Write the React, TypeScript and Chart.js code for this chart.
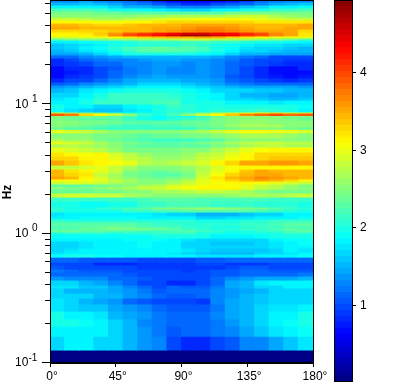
import React, { useEffect, useRef } from "react";
import { Chart, registerables } from "chart.js";

Chart.register(...registerables);

const FONT = '"Liberation Sans", Arial, sans-serif';

const angleCenters = [5, 15, 25, 35, 45, 55, 65, 75, 85, 95, 105, 115, 125, 135, 145, 155, 165, 175];
const angleTicks = [0, 45, 90, 135, 180];
const colorTicks = [1, 2, 3, 4];
const colorMin = 0.01;
const colorMax = 4.94;
const colorLevels = 64;
const decadeLabels = [
  { value: 10, exp: "1" },
  { value: 1, exp: "0" },
  { value: 0.1, exp: "-1" },
];

// frequency edges of the rows, Hz, high to low
const freqEdges = [
  64.07, 61.8, 58.6, 55.6, 52.7, 49.9, 47.3, 44.9, 42.5, 40.3, 38.2, 36.2, 35.0, 33.8, 32.6, 31.4, 29.8, 28.2,
  26.8, 25.4, 24.1, 22.8, 21.6, 19.8, 18.4, 17.2, 16.0, 14.9, 14.1, 13.4, 12.4,
  11.4, 10.8, 10.05, 9.36, 8.72, 8.57, 8.19, 7.98, 7.56, 7.04, 6.72, 6.4, 6.02, 5.49,
  5.2, 4.93, 4.68, 4.28, 3.98, 3.71, 3.39, 3.16, 2.99, 2.79, 2.65, 2.55, 2.42,
  2.33, 2.21, 2.06, 1.92, 1.79, 1.61, 1.55, 1.47, 1.37, 1.3, 1.23, 1.145, 1.105, 1.066,
  1.029, 0.993, 0.925, 0.877, 0.816, 0.774, 0.721, 0.696, 0.659, 0.603, 0.572, 0.532, 0.505, 0.47,
  0.438, 0.4, 0.38, 0.347, 0.318, 0.286, 0.252, 0.219, 0.193, 0.161, 0.126, 0.1,
];

// one row per frequency band, one value per 10-degree bin
const bandValues = [
  [1.3,1.3,1.4,1.3,1.2,1.1,1.0,0.85,0.7,0.6,0.6,0.7,0.75,0.9,1.1,1.2,1.3,1.3],
  [1.55,1.55,1.6,1.5,1.4,1.3,1.2,1.05,0.95,0.85,0.85,0.95,1.05,1.15,1.3,1.45,1.55,1.6],
  [1.85,1.85,1.85,1.8,1.7,1.55,1.5,1.4,1.3,1.25,1.25,1.35,1.45,1.6,1.7,1.8,1.85,1.9],
  [2.2,2.2,2.2,2.1,2.0,1.95,1.9,1.85,1.75,1.7,1.7,1.8,1.85,1.95,2.0,2.1,2.15,2.2],
  [2.45,2.4,2.4,2.35,2.35,2.3,2.25,2.3,2.3,2.3,2.3,2.3,2.4,2.4,2.45,2.45,2.4,2.4],
  [2.55,2.55,2.5,2.5,2.5,2.5,2.6,2.6,2.65,2.7,2.7,2.7,2.75,2.8,2.8,2.7,2.6,2.55],
  [2.8,2.8,2.75,2.7,2.7,2.75,2.85,2.9,2.95,3.0,3.05,3.05,3.1,3.05,3.0,2.9,2.85,2.8],
  [3.15,3.15,3.1,3.05,3.05,3.1,3.15,3.2,3.25,3.3,3.3,3.3,3.3,3.25,3.2,3.2,3.2,3.2],
  [3.45,3.45,3.35,3.3,3.3,3.35,3.4,3.45,3.45,3.5,3.55,3.55,3.5,3.45,3.4,3.4,3.45,3.5],
  [3.5,3.5,3.45,3.4,3.4,3.4,3.45,3.5,3.55,3.6,3.65,3.65,3.6,3.5,3.45,3.45,3.5,3.5],
  [3.3,3.3,3.3,3.3,3.35,3.4,3.45,3.55,3.6,3.7,3.75,3.75,3.65,3.6,3.55,3.55,3.5,3.3],
  [3.1,3.1,3.2,3.35,3.6,3.9,4.05,4.2,4.4,4.55,4.55,4.4,4.3,4.1,3.95,3.7,3.5,3.2],
  [3.15,3.15,3.15,3.3,3.65,3.95,4.15,4.3,4.55,4.75,4.75,4.55,4.35,4.15,3.95,3.7,3.5,3.2],
  [2.9,2.9,2.95,3.0,3.1,3.2,3.3,3.35,3.4,3.45,3.5,3.4,3.3,3.2,3.1,3.0,2.95,2.95],
  [2.35,2.4,2.5,2.55,2.6,2.6,2.65,2.7,2.75,2.8,2.8,2.75,2.7,2.65,2.6,2.5,2.4,2.3],
  [1.85,1.85,1.9,1.95,2.0,2.05,2.1,2.15,2.15,2.2,2.2,2.15,2.1,2.05,2.0,1.95,1.9,1.85],
  [1.6,1.65,1.75,1.85,1.95,2.0,2.05,2.05,2.05,2.1,2.05,2.0,1.9,1.8,1.75,1.75,1.7,1.65],
  [1.6,1.7,1.8,1.9,2.05,2.2,2.3,2.35,2.3,2.25,2.2,2.0,1.9,1.75,1.7,1.65,1.6,1.55],
  [1.55,1.6,1.75,1.85,2.0,2.15,2.25,2.3,2.25,2.2,2.15,1.95,1.85,1.7,1.65,1.6,1.55,1.5],
  [1.4,1.45,1.55,1.7,1.8,1.95,2.0,2.0,2.0,1.95,1.9,1.8,1.7,1.55,1.5,1.45,1.4,1.4],
  [1.1,1.15,1.25,1.35,1.45,1.55,1.55,1.55,1.55,1.5,1.5,1.4,1.3,1.2,1.1,1.0,1.0,1.0],
  [0.85,0.95,1.1,1.2,1.25,1.3,1.35,1.4,1.4,1.35,1.35,1.3,1.2,1.05,1.0,0.95,0.9,0.9],
  [0.8,0.9,1.0,1.1,1.15,1.25,1.3,1.35,1.35,1.3,1.35,1.3,1.15,1.05,1.0,0.9,0.85,0.85],
  [0.7,0.8,0.85,0.95,1.05,1.2,1.3,1.35,1.3,1.3,1.35,1.3,1.1,1.0,0.85,0.7,0.7,0.8],
  [0.65,0.75,0.8,0.95,1.1,1.2,1.3,1.35,1.25,1.25,1.35,1.3,1.1,0.95,0.85,0.7,0.65,0.7],
  [0.7,0.8,0.9,1.0,1.15,1.25,1.35,1.4,1.35,1.35,1.35,1.3,1.05,0.95,0.85,0.75,0.7,0.75],
  [0.85,0.95,1.0,1.15,1.25,1.4,1.5,1.5,1.5,1.45,1.45,1.35,1.15,1.05,0.95,0.9,0.85,0.9],
  [1.05,1.15,1.25,1.35,1.45,1.55,1.65,1.7,1.65,1.6,1.55,1.45,1.3,1.2,1.15,1.1,1.1,1.1],
  [1.35,1.45,1.55,1.6,1.65,1.75,1.8,1.85,1.8,1.75,1.7,1.6,1.5,1.45,1.45,1.4,1.4,1.35],
  [1.55,1.6,1.75,1.85,1.9,2.0,2.0,2.0,1.95,1.9,1.8,1.7,1.65,1.65,1.6,1.6,1.55,1.55],
  [1.65,1.7,1.8,2.0,2.1,2.15,2.15,2.1,2.05,1.95,1.9,1.8,1.65,1.55,1.5,1.4,1.45,1.55],
  [1.75,1.8,1.9,2.05,2.1,2.15,2.15,2.15,2.1,1.95,1.9,1.85,1.7,1.65,1.6,1.5,1.55,1.6],
  [1.85,1.85,2.0,2.1,2.1,2.1,2.15,2.2,2.2,2.0,1.95,1.95,1.85,1.8,1.8,1.75,1.8,1.8],
  [1.95,1.85,1.8,1.7,1.7,1.8,1.9,2.0,2.1,2.05,1.95,2.0,2.0,2.0,2.0,2.0,2.0,1.9],
  [1.9,1.75,1.7,1.6,1.6,1.75,1.85,1.95,2.05,2.05,2.0,2.05,2.05,2.05,2.1,2.05,2.0,1.85],
  [2.9,2.7,2.5,2.35,2.2,2.0,1.95,1.95,2.1,2.2,2.4,2.7,2.9,3.0,3.1,3.2,2.9,3.0],
  [3.9,3.75,3.3,3.1,2.8,2.5,2.1,1.95,2.2,2.55,2.85,3.1,3.35,3.65,3.85,3.95,3.8,3.9],
  [2.5,2.45,2.4,2.35,2.3,2.2,2.0,1.9,2.0,2.0,2.1,2.35,2.5,2.6,2.55,2.5,2.45,2.4],
  [2.4,2.35,2.3,2.3,2.25,2.1,1.95,1.9,2.05,2.1,2.2,2.4,2.5,2.55,2.55,2.5,2.4,2.35],
  [2.5,2.5,2.45,2.4,2.35,2.3,2.3,2.3,2.3,2.35,2.35,2.45,2.5,2.6,2.6,2.55,2.5,2.5],
  [2.55,2.4,2.35,2.25,2.2,2.15,2.15,2.2,2.2,2.25,2.35,2.45,2.6,2.65,2.65,2.65,2.55,2.5],
  [2.35,2.3,2.3,2.2,2.15,2.1,2.1,2.1,2.1,2.15,2.25,2.35,2.45,2.55,2.55,2.55,2.4,2.35],
  [3.0,2.9,2.8,2.65,2.55,2.5,2.5,2.5,2.5,2.6,2.7,2.85,3.0,3.05,3.05,3.0,3.0,2.9],
  [2.55,2.5,2.5,2.45,2.4,2.35,2.3,2.35,2.35,2.4,2.45,2.55,2.6,2.65,2.65,2.65,2.6,2.55],
  [2.65,2.6,2.6,2.45,2.35,2.3,2.2,2.15,2.1,2.1,2.2,2.3,2.4,2.5,2.55,2.55,2.5,2.5],
  [2.95,2.9,2.85,2.7,2.55,2.4,2.35,2.3,2.3,2.35,2.4,2.55,2.65,2.75,2.8,2.8,2.75,2.75],
  [2.7,2.75,2.7,2.6,2.5,2.35,2.3,2.25,2.25,2.25,2.3,2.45,2.55,2.7,2.75,2.75,2.7,2.7],
  [2.95,2.9,2.85,2.75,2.6,2.45,2.4,2.45,2.45,2.5,2.5,2.65,2.8,2.95,3.05,3.1,3.1,3.1],
  [3.2,3.15,3.05,3.1,2.9,2.75,2.6,2.5,2.55,2.6,2.75,2.85,3.0,3.1,3.25,3.3,3.25,3.3],
  [3.25,3.25,3.1,3.1,3.0,2.85,2.75,2.6,2.6,2.7,2.8,2.9,3.05,3.15,3.3,3.35,3.35,3.35],
  [3.5,3.35,3.2,3.1,3.05,2.95,2.75,2.7,2.75,2.8,2.9,3.1,3.3,3.5,3.55,3.6,3.6,3.5],
  [2.85,2.85,2.9,2.95,2.85,2.65,2.55,2.5,2.55,2.6,2.75,2.9,3.05,3.15,3.15,3.1,3.15,3.15],
  [3.4,3.2,3.15,3.0,2.8,2.55,2.45,2.35,2.4,2.5,2.75,2.95,3.15,3.35,3.5,3.45,3.45,3.4],
  [3.4,3.3,3.2,2.85,2.7,2.4,2.35,2.3,2.3,2.4,2.85,3.05,3.3,3.4,3.5,3.55,3.45,3.45],
  [3.55,3.45,3.1,2.9,2.7,2.5,2.4,2.35,2.4,2.55,2.9,3.2,3.45,3.5,3.65,3.6,3.5,3.4],
  [3.1,3.05,3.05,3.0,2.8,2.65,2.55,2.5,2.6,2.75,2.95,3.1,3.3,3.4,3.5,3.45,3.3,3.15],
  [2.85,2.9,2.9,2.8,2.7,2.6,2.55,2.55,2.65,2.8,3.0,3.05,3.1,3.1,3.05,3.0,2.9,2.85],
  [2.3,2.3,2.3,2.35,2.4,2.55,2.65,2.75,2.9,3.0,3.05,3.1,3.05,2.95,2.85,2.75,2.6,2.45],
  [2.5,2.45,2.45,2.55,2.6,2.65,2.8,2.85,2.95,3.05,3.1,3.1,3.1,3.0,2.85,2.75,2.6,2.5],
  [2.35,2.35,2.35,2.4,2.45,2.5,2.5,2.65,2.7,2.75,2.8,2.8,2.75,2.65,2.55,2.45,2.4,2.4],
  [2.85,2.9,2.9,2.85,2.8,2.7,2.6,2.55,2.5,2.5,2.5,2.55,2.6,2.65,2.65,2.7,2.75,2.85],
  [2.15,2.15,2.15,2.15,2.15,2.15,2.2,2.25,2.25,2.25,2.2,2.2,2.2,2.2,2.2,2.15,2.15,2.15],
  [1.95,1.95,1.9,1.9,1.95,2.0,2.1,2.15,2.2,2.2,2.2,2.15,2.1,2.1,2.05,2.05,2.05,1.95],
  [2.05,1.95,2.0,2.05,2.15,2.2,2.3,2.4,2.5,2.55,2.6,2.6,2.55,2.45,2.4,2.3,2.15,2.05],
  [2.05,2.0,1.95,2.0,2.0,2.1,2.15,2.2,2.2,2.25,2.3,2.3,2.3,2.25,2.2,2.15,2.05,2.0],
  [1.75,1.85,1.85,1.85,1.85,1.85,1.8,1.75,1.7,1.65,1.55,1.55,1.55,1.6,1.65,1.7,1.8,1.8],
  [1.8,1.85,1.9,1.9,1.9,1.9,1.85,1.85,1.8,1.8,1.7,1.7,1.75,1.75,1.8,1.85,1.85,1.9],
  [2.15,2.05,2.05,2.05,2.05,2.05,2.05,2.05,2.05,2.05,2.0,2.0,2.0,2.05,2.05,2.1,2.1,2.15],
  [2.3,2.25,2.25,2.3,2.25,2.25,2.2,2.15,2.1,2.05,2.05,2.05,2.05,2.1,2.15,2.2,2.25,2.3],
  [2.2,2.2,2.3,2.35,2.4,2.35,2.3,2.25,2.2,2.15,2.05,2.0,2.0,2.05,2.1,2.15,2.2,2.2],
  [2.3,2.3,2.35,2.35,2.4,2.4,2.4,2.35,2.25,2.15,2.1,2.05,2.05,2.1,2.15,2.2,2.35,2.3],
  [2.35,2.35,2.3,2.3,2.2,2.2,2.15,2.15,2.2,2.25,2.1,2.05,2.0,2.0,2.05,2.15,2.2,2.25],
  [2.0,2.05,2.05,2.05,2.0,2.05,2.05,2.1,2.1,2.1,2.0,1.95,1.9,1.95,1.95,2.0,2.1,2.05],
  [1.9,1.9,1.9,1.9,1.9,1.9,1.9,1.95,1.95,2.0,1.95,1.85,1.85,1.85,1.9,1.95,1.95,1.95],
  [1.85,1.8,1.8,1.8,1.85,1.9,1.9,1.9,1.85,1.75,1.7,1.7,1.65,1.65,1.7,1.85,1.9,1.9],
  [1.7,1.7,1.75,1.8,1.85,1.85,1.9,1.85,1.8,1.7,1.65,1.6,1.6,1.6,1.7,1.75,1.85,1.9],
  [1.65,1.65,1.75,1.8,1.85,1.85,1.9,1.85,1.8,1.7,1.65,1.65,1.65,1.65,1.7,1.75,1.85,1.85],
  [1.7,1.75,1.85,1.85,1.85,1.85,1.85,1.8,1.8,1.75,1.7,1.6,1.6,1.6,1.6,1.7,1.8,1.75],
  [1.75,1.8,1.8,1.8,1.85,1.8,1.8,1.8,1.75,1.7,1.6,1.5,1.5,1.55,1.65,1.7,1.75,1.8],
  [1.9,1.95,1.95,1.9,1.9,1.85,1.85,1.85,1.8,1.8,1.75,1.75,1.75,1.75,1.85,1.85,1.85,1.9],
  [1.15,1.1,1.05,1.05,1.05,1.05,1.0,1.0,1.0,1.0,1.05,1.05,1.1,1.1,1.15,1.1,1.1,1.1],
  [1.0,0.95,0.95,0.85,0.85,0.85,0.9,0.9,0.9,0.9,0.95,0.95,0.9,0.9,0.9,0.95,0.95,0.95],
  [1.05,0.95,0.95,0.95,0.95,0.95,0.9,0.9,0.9,0.9,0.9,0.9,0.95,1.05,1.05,1.0,1.0,1.0],
  [1.2,1.1,1.05,1.05,1.05,1.0,0.95,0.95,0.95,0.9,0.95,1.05,1.05,1.1,1.1,1.05,1.05,1.05],
  [1.1,1.15,1.15,1.15,1.1,1.05,0.95,0.95,0.95,0.95,0.95,1.05,1.05,1.1,1.15,1.1,1.15,1.2],
  [1.35,1.3,1.25,1.25,1.15,1.1,1.05,1.0,1.0,0.95,1.0,1.1,1.25,1.35,1.4,1.45,1.45,1.5],
  [1.7,1.65,1.55,1.45,1.3,1.15,0.95,0.95,0.8,0.85,1.0,1.15,1.45,1.55,1.75,1.8,1.85,1.85],
  [1.75,1.75,1.6,1.6,1.4,1.3,1.1,1.0,1.1,1.05,1.05,1.2,1.4,1.5,1.7,1.7,1.8,1.85],
  [1.7,1.5,1.55,1.55,1.45,1.35,1.2,1.05,1.1,1.1,1.15,1.25,1.35,1.45,1.5,1.65,1.65,1.7],
  [1.7,1.7,1.65,1.5,1.5,1.35,1.3,1.1,1.05,1.05,1.15,1.3,1.35,1.5,1.6,1.65,1.7,1.7],
  [1.75,1.7,1.55,1.4,1.35,1.15,1.05,0.95,0.95,0.95,0.9,1.25,1.4,1.5,1.6,1.65,1.7,1.7],
  [1.75,1.7,1.6,1.6,1.45,1.35,1.25,1.15,1.05,1.05,1.05,1.2,1.45,1.5,1.65,1.75,1.75,1.85],
  [1.95,1.85,1.85,1.75,1.5,1.4,1.35,1.2,1.1,1.1,1.15,1.25,1.4,1.5,1.7,1.85,1.85,1.95],
  [2.0,1.95,1.9,1.8,1.65,1.5,1.3,1.2,1.1,1.1,1.15,1.2,1.35,1.5,1.7,1.8,1.9,2.0],
  [1.85,1.85,1.85,1.8,1.7,1.55,1.35,1.2,1.05,1.1,1.15,1.2,1.3,1.45,1.6,1.75,1.85,1.9],
  [1.7,1.8,1.8,1.7,1.65,1.5,1.35,1.25,1.0,0.85,0.85,1.0,1.05,1.25,1.3,1.4,1.6,1.75],
  [0.05,0.05,0.05,0.05,0.05,0.05,0.05,0.05,0.05,0.05,0.05,0.05,0.05,0.05,0.05,0.05,0.05,0.05],
];

function jet(value: number): string {
  const idx = Math.max(0, Math.min(colorLevels - 1, Math.floor(((value - colorMin) / (colorMax - colorMin)) * colorLevels)));
  const t = (idx + 0.5) / colorLevels;
  const ch = (c: number) => Math.round(255 * Math.max(0, Math.min(1, 1.5 - Math.abs(4 * t - c))));
  return `rgb(${ch(3)},${ch(2)},${ch(1)})`;
}

const framePlugin = {
  id: "frame",
  afterDatasetsDraw(chart: any) {
    const { ctx, chartArea: a } = chart;
    ctx.save();
    ctx.strokeStyle = "#000";
    ctx.lineWidth = 1;
    ctx.strokeRect(a.left + 0.5, a.top + 0.5, a.right - a.left, a.bottom - a.top - 1);
    ctx.restore();
  },
};

const freqAxisPlugin = {
  id: "freqAxis",
  afterDraw(chart: any) {
    const { ctx, scales, chartArea } = chart;
    const y = scales.y;
    ctx.save();
    ctx.strokeStyle = "#000";
    ctx.lineWidth = 1;
    for (const tick of y.ticks) {
      const m = tick.value / Math.pow(10, Math.floor(Math.log10(tick.value) + 1e-9));
      if (Math.abs(m - Math.round(m)) > 1e-6) continue;
      const isDecade = Math.abs(m - 1) < 1e-6;
      const py = Math.round(y.getPixelForValue(tick.value)) - 0.5;
      ctx.beginPath();
      ctx.moveTo(chartArea.left - (isDecade ? 8 : 5), py);
      ctx.lineTo(chartArea.left, py);
      ctx.stroke();
    }
    ctx.fillStyle = "#000";
    ctx.textBaseline = "middle";
    for (const d of decadeLabels) {
      const py = y.getPixelForValue(d.value);
      const negative = d.exp.startsWith("-");
      ctx.textAlign = "left";
      ctx.font = `12px ${FONT}`;
      ctx.fillText("10", 15, py);
      ctx.font = `10px ${FONT}`;
      ctx.fillText(d.exp, negative ? 28.5 : 32, py - 5);
    }
    ctx.translate(8, 192);
    ctx.rotate(-Math.PI / 2);
    ctx.textAlign = "center";
    ctx.font = `bold 12px ${FONT}`;
    ctx.fillText("Hz", 0, 0);
    ctx.restore();
  },
};

const colorBarValues: number[] = [];
for (let i = 0; i < colorLevels; i++) colorBarValues.push(colorMin + ((i + 0.5) / colorLevels) * (colorMax - colorMin));

export default function App() {
  const mainRef = useRef<HTMLCanvasElement>(null);
  const barRef = useRef<HTMLCanvasElement>(null);

  useEffect(() => {
    Chart.defaults.font.family = FONT;
    const datasets = bandValues.map((row, i) => ({
      data: row.map((v, j) => ({ x: angleCenters[j], y: [freqEdges[i + 1], freqEdges[i]] })),
      backgroundColor: row.map((v) => jet(v)),
      borderWidth: 0,
      borderSkipped: false,
      inflateAmount: 0.5,
      barPercentage: 1,
      categoryPercentage: 1,
      grouped: false,
    }));
    const main = new Chart(mainRef.current!, {
      type: "bar",
      data: { datasets } as any,
      plugins: [framePlugin, freqAxisPlugin],
      options: {
        animation: false,
        responsive: false,
        devicePixelRatio: 1,
        events: [],
        layout: { padding: { left: 0, top: 0, right: 105, bottom: 0 } },
        plugins: { legend: { display: false }, tooltip: { enabled: false } },
        scales: {
          x: {
            type: "linear",
            min: 0,
            max: 180,
            offset: false,
            afterBuildTicks: (s: any) => { s.ticks = angleTicks.map((value) => ({ value })); },
            afterFit: (s: any) => { s.height = 20; },
            grid: { offset: false, drawOnChartArea: false, tickLength: 4, tickColor: "#000", tickWidth: 1 },
            border: { color: "#000" },
            ticks: {
              color: "#000",
              padding: 2,
              autoSkip: false,
              maxRotation: 0,
              labelOffset: 2,
              font: { size: 12, family: FONT },
              callback: (v: any) => `${v}°`,
            },
          },
          y: {
            type: "logarithmic",
            min: 0.1,
            max: 64.07,
            afterFit: (s: any) => { s.width = 50; },
            grid: { drawOnChartArea: false, drawTicks: false },
            border: { display: false },
            ticks: { display: false },
          },
        },
      } as any,
    });

    const bar = new Chart(barRef.current!, {
      type: "bar",
      data: {
        labels: ["scale"],
        datasets: colorBarValues.map((v, i) => ({
          data: [[colorMin + (i / colorLevels) * (colorMax - colorMin), colorMin + ((i + 1) / colorLevels) * (colorMax - colorMin)]],
          backgroundColor: jet(v),
          borderWidth: 0,
          borderSkipped: false,
          inflateAmount: 0.5,
          barPercentage: 1,
          categoryPercentage: 1,
          grouped: false,
        })),
      } as any,
      plugins: [framePlugin],
      options: {
        animation: false,
        responsive: false,
        devicePixelRatio: 1,
        events: [],
        layout: { padding: { left: 14, top: 0, right: 0, bottom: 1 } },
        plugins: { legend: { display: false }, tooltip: { enabled: false } },
        scales: {
          x: { display: false },
          y: {
            position: "right",
            min: colorMin,
            max: colorMax,
            afterBuildTicks: (s: any) => { s.ticks = colorTicks.map((value) => ({ value })); },
            afterFit: (s: any) => { s.width = 66; s.paddingTop = 0; s.paddingBottom = 0; },
            grid: { drawOnChartArea: false, tickLength: 4, tickColor: "#000" },
            border: { display: false },
            ticks: { color: "#000", padding: 4, font: { size: 12, family: FONT } },
          },
        },
      } as any,
    });
    return () => {
      main.destroy();
      bar.destroy();
    };
  }, []);

  return (
    <div style={{ position: "fixed", left: 0, top: 0, width: 418, height: 383, background: "#fff" }}>
      <canvas ref={mainRef} width={418} height={383} style={{ position: "absolute", left: 0, top: 0 }} />
      <canvas ref={barRef} width={98} height={383} style={{ position: "absolute", left: 320, top: 0 }} />
    </div>
  );
}
